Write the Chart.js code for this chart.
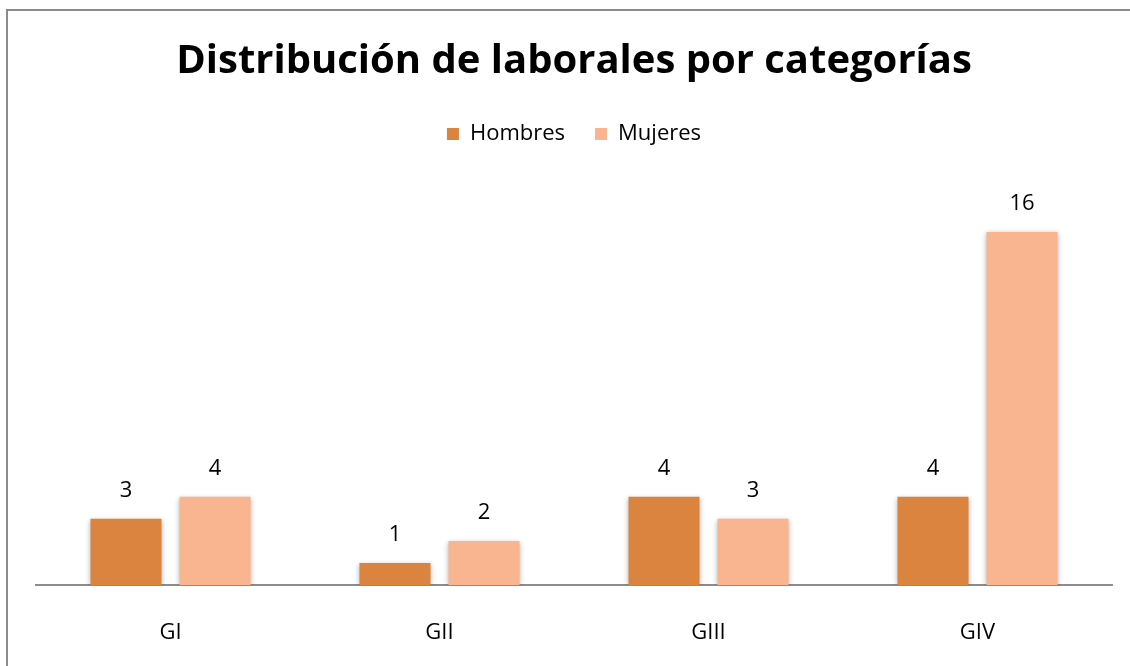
<!DOCTYPE html>
<html>
<head>
<meta charset="utf-8">
<script src="https://cdn.jsdelivr.net/npm/chart.js@4"></script>
<style>
  html, body { margin: 0; padding: 0; background: #fff; }
  #wrap { width: 1130px; height: 666px; }
</style>
</head>
<body>
<div id="wrap"><canvas id="barChart"></canvas></div>
<script>
const categories = ['GI', 'GII', 'GIII', 'GIV'];
const hombres = [3, 1, 4, 4];
const mujeres = [4, 2, 3, 16];
const seriesNames = ['Hombres', 'Mujeres'];

const FONT = '"Open Sans", Calibri, sans-serif';

// marco gris del gráfico
const framePlugin = {
    id: 'frame',
    beforeDraw(chart) {
        const ctx = chart.ctx;
        ctx.save();
        ctx.strokeStyle = '#8c8c8c';
        ctx.lineWidth = 2;
        ctx.beginPath();
        ctx.moveTo(7, chart.height);
        ctx.lineTo(7, 10);
        ctx.lineTo(chart.width, 10);
        ctx.stroke();
        ctx.restore();
    }
};

// mas espacio debajo de la leyenda
const legendSpace = {
    id: 'legendSpace',
    afterInit(chart) {
        const lg = chart.legend;
        const orig = lg.fit.bind(lg);
        lg.fit = function () {
            orig();
            this.height = 95;
        };
    }
};

// sombra suave en las barras
const shadowPlugin = {
    id: 'barShadow',
    beforeDatasetsDraw(chart) {
        const ctx = chart.ctx;
        ctx.save();
        ctx.shadowColor = 'rgba(0,0,0,0.28)';
        ctx.shadowBlur = 5;
        ctx.shadowOffsetX = 0;
        ctx.shadowOffsetY = 1;
    },
    afterDatasetsDraw(chart) {
        chart.ctx.restore();
    }
};

// etiquetas de valor encima de las barras
const labelPlugin = {
    id: 'valueLabels',
    afterDatasetsDraw(chart) {
        const ctx = chart.ctx;
        ctx.save();
        ctx.font = '22px ' + FONT;
        ctx.fillStyle = '#000';
        ctx.textAlign = 'center';
        ctx.textBaseline = 'middle';
        chart.data.datasets.forEach((ds, i) => {
            chart.getDatasetMeta(i).data.forEach((bar, j) => {
                ctx.fillText(ds.data[j], bar.x, bar.y - 28);
            });
        });
        ctx.restore();
    }
};

new Chart(document.getElementById('barChart'), {
    type: 'bar',
    data: {
        labels: categories,
        datasets: [
            { label: seriesNames[0], data: hombres, backgroundColor: '#da843f' },
            { label: seriesNames[1], data: mujeres, backgroundColor: '#f8b58f' }
        ]
    },
    options: {
        animation: false,
        responsive: true,
        maintainAspectRatio: false,
        layout: { padding: { left: 36, right: 18, top: 0, bottom: 0 } },
        datasets: {
            bar: { barPercentage: 0.798, categoryPercentage: 0.662 }
        },
        scales: {
            x: {
                grid: { display: false },
                border: { display: true, color: '#8c8c8c', width: 2 },
                ticks: { color: '#000', padding: 27, font: { size: 22, family: FONT } },
                afterFit(scale) { scale.height = 81; }
            },
            y: {
                display: false,
                min: 0, max: 18
            }
        },
        plugins: {
            title: {
                display: true,
                text: 'Distribución de laborales por categorías',
                color: '#000',
                font: { size: 40, weight: 'bold', family: FONT },
                padding: { top: 38, bottom: 7 }
            },
            legend: {
                labels: {
                    color: '#000',
                    boxWidth: 12, boxHeight: 12,
                    padding: 30,
                    font: { size: 22, family: FONT }
                }
            },
            tooltip: { enabled: false }
        }
    },
    plugins: [framePlugin, legendSpace, shadowPlugin, labelPlugin]
});
</script>
</body>
</html>
